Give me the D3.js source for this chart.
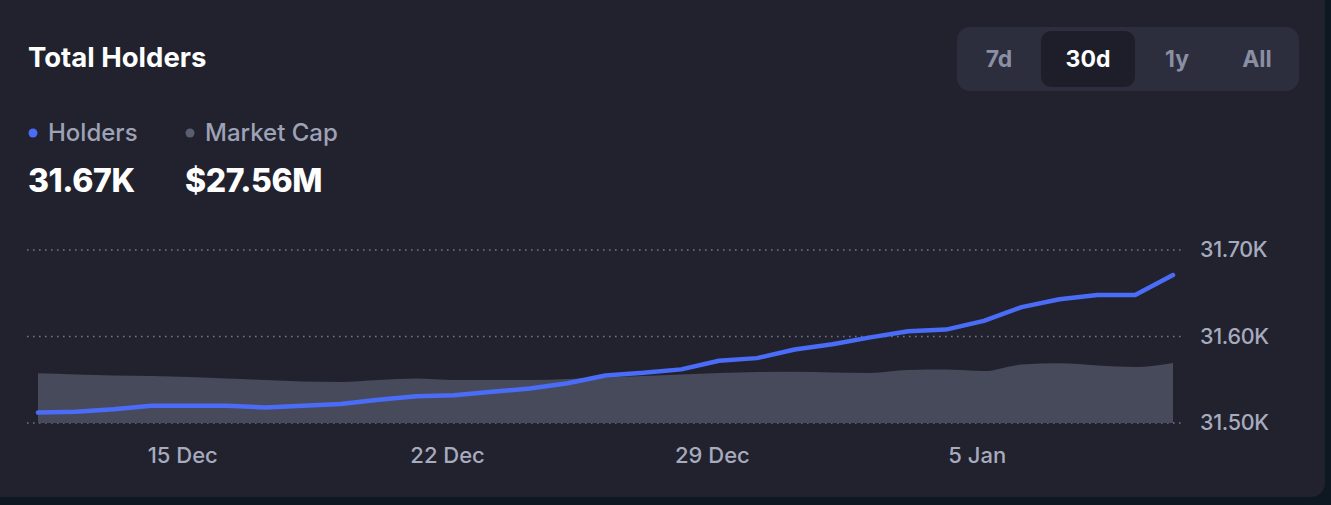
<!DOCTYPE html>
<html>
<head>
<meta charset="utf-8">
<script src="https://cdn.jsdelivr.net/npm/d3@7"></script>
<style>
  html, body { margin: 0; padding: 0; background: #0e1822; }
  svg { display: block; font-family: Inter, "Noto Sans", sans-serif; }
</style>
</head>
<body>
<div id="chart"></div>
<script>
// daily samples, 11 Dec -> 10 Jan
const startDate = new Date(2024, 11, 11, 4, 30);
const holders = [31512, 31513, 31516, 31520, 31520, 31520, 31518, 31520, 31522, 31527,
  31531, 31532, 31536, 31540, 31546, 31555, 31558, 31562, 31572, 31575,
  31585, 31591, 31599, 31606, 31608, 31618, 31634, 31643, 31648, 31648, 31671];
// market cap in $M
const marketCap = [22.83, 22.28, 21.82, 21.59, 21.13, 20.44, 19.75, 19.06, 18.83, 19.75,
  20.44, 19.75, 19.75, 19.75, 20.21, 20.9, 21.59, 22.28, 22.97, 23.43,
  23.56, 23.2, 22.97, 24.35, 24.57, 23.89, 26.87, 27.42, 26.41, 25.72, 27.56];
const yTicks = [31500, 31600, 31700];
const xTickDates = [new Date(2024, 11, 15), new Date(2024, 11, 22), new Date(2024, 11, 29), new Date(2025, 0, 5)];
const ranges = ['7d', '30d', '1y', 'All'];
const selectedRange = '30d';

const data = holders.map((h, i) => ({
  date: d3.timeDay.offset(startDate, i),
  holders: h,
  cap: marketCap[i]
}));

const width = 1331, height = 505;
const svg = d3.select('#chart').append('svg')
  .attr('width', width)
  .attr('height', height);

// card
svg.append('rect')
  .attr('x', -20).attr('y', -20)
  .attr('width', 1345).attr('height', 517)
  .attr('rx', 14)
  .attr('fill', '#21222e');

// header
svg.append('text')
  .attr('x', 28).attr('y', 67)
  .attr('fill', '#ffffff')
  .attr('font-size', 27.5).attr('font-weight', 700)
  .text('Total Holders');

// range toggle
const toggle = svg.append('g');
toggle.append('rect')
  .attr('x', 957).attr('y', 27).attr('width', 342).attr('height', 64)
  .attr('rx', 13).attr('fill', '#2c2d3d');
toggle.append('rect')
  .attr('x', 1041).attr('y', 31).attr('width', 94).attr('height', 56)
  .attr('rx', 10).attr('fill', '#1d1e29');
const btnX = d3.scaleOrdinal().domain(ranges).range([999, 1088, 1177, 1257]);
toggle.selectAll('text.btn')
  .data(ranges)
  .join('text')
  .attr('class', 'btn')
  .attr('x', d => btnX(d))
  .attr('y', 67)
  .attr('text-anchor', 'middle')
  .attr('font-size', 23).attr('font-weight', 700)
  .attr('fill', d => d === selectedRange ? '#ffffff' : '#8a8fa4')
  .text(d => d);

// legend
const legend = [
  { label: 'Holders', value: '31.67K', color: '#4a6cf7', x: 28 },
  { label: 'Market Cap', value: '$27.56M', color: '#5b5e70', x: 185 }
];
const lg = svg.selectAll('g.legend').data(legend).join('g').attr('class', 'legend');
lg.append('circle')
  .attr('cx', d => d.x + 5).attr('cy', 133).attr('r', 4.5)
  .attr('fill', d => d.color);
lg.append('text')
  .attr('x', d => d.x + 20).attr('y', 141)
  .attr('font-size', 24).attr('font-weight', 500)
  .attr('fill', '#9ea2b6')
  .text(d => d.label);
lg.append('text')
  .attr('x', d => d.x).attr('y', 192)
  .attr('font-size', 32).attr('font-weight', 800)
  .attr('letter-spacing', -0.4)
  .attr('fill', '#ffffff')
  .text(d => d.value);

// scales
const x = d3.scaleTime()
  .domain([data[0].date, data[data.length - 1].date])
  .range([38, 1173]);
const y = d3.scaleLinear().domain([31500, 31700]).range([423, 250]);
const yCap = d3.scaleLinear().domain([0, 79.5]).range([423, 250]);

// grid
svg.append('g')
  .selectAll('line')
  .data(yTicks)
  .join('line')
  .attr('x1', 27).attr('x2', 1183)
  .attr('y1', d => y(d)).attr('y2', d => y(d))
  .attr('stroke', '#717487')
  .attr('stroke-width', 1.6)
  .attr('stroke-dasharray', '1.6,4.4');

// market cap area
svg.append('path')
  .datum(data)
  .attr('fill', '#474a5b')
  .attr('d', d3.area()
    .curve(d3.curveMonotoneX)
    .x(d => x(d.date))
    .y0(y(31500))
    .y1(d => yCap(d.cap)));

// holders line
svg.append('path')
  .datum(data)
  .attr('fill', 'none')
  .attr('stroke', '#4a6cf7')
  .attr('stroke-width', 4.5)
  .attr('stroke-linejoin', 'round')
  .attr('stroke-linecap', 'round')
  .attr('d', d3.line()
    .x(d => x(d.date))
    .y(d => y(d.holders)));

// y axis
const yAxis = svg.append('g')
  .attr('transform', 'translate(1200,0)')
  .call(d3.axisRight(y).tickValues(yTicks).tickSize(0).tickPadding(0)
    .tickFormat(d => (d / 1000).toFixed(2) + 'K'));
yAxis.select('.domain').remove();
yAxis.selectAll('text')
  .attr('fill', '#a7abbe')
  .attr('font-size', 21.5)
  .attr('letter-spacing', -0.3)
  .attr('font-family', 'Inter, "Noto Sans", sans-serif')
  .attr('font-weight', 500);

// x axis
const xAxis = svg.append('g')
  .attr('transform', 'translate(0,463)')
  .call(d3.axisBottom(x).tickValues(xTickDates).tickSize(0).tickPadding(0)
    .tickFormat(d3.timeFormat('%-d %b')));
xAxis.select('.domain').remove();
xAxis.selectAll('text')
  .attr('dy', 0).attr('y', 0)
  .attr('fill', '#a7abbe')
  .attr('font-size', 22)
  .attr('font-family', 'Inter, "Noto Sans", sans-serif')
  .attr('font-weight', 500);
</script>
</body>
</html>
